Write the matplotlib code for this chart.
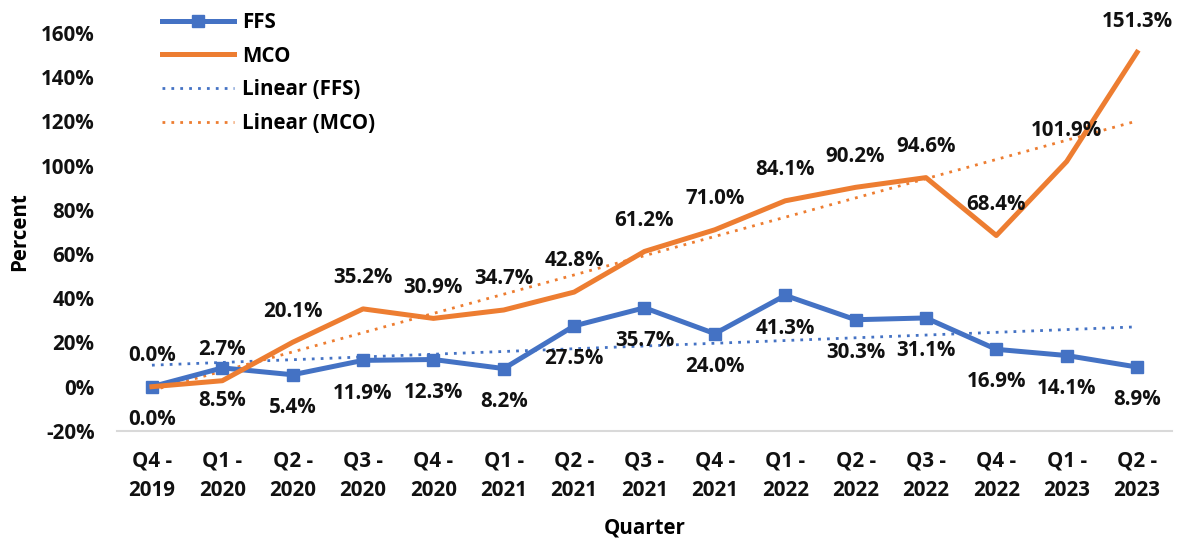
import numpy as np
import matplotlib.pyplot as plt

quarters = ["Q4 -\n2019", "Q1 -\n2020", "Q2 -\n2020", "Q3 -\n2020", "Q4 -\n2020",
            "Q1 -\n2021", "Q2 -\n2021", "Q3 -\n2021", "Q4 -\n2021", "Q1 -\n2022",
            "Q2 -\n2022", "Q3 -\n2022", "Q4 -\n2022", "Q1 -\n2023", "Q2 -\n2023"]
ffs = [0.0, 8.5, 5.4, 11.9, 12.3, 8.2, 27.5, 35.7, 24.0, 41.3, 30.3, 31.1, 16.9, 14.1, 8.9]
mco = [0.0, 2.7, 20.1, 35.2, 30.9, 34.7, 42.8, 61.2, 71.0, 84.1, 90.2, 94.6, 68.4, 101.9, 151.3]

blue = "#4472C4"
orange = "#ED7D31"
fs = 14.8

plt.rcParams['font.family'] = ['Open Sans', 'DejaVu Sans']
plt.rcParams['font.weight'] = 'bold'

fig = plt.figure(figsize=(11.83, 5.42), dpi=100)
ax = fig.add_axes([0.0987, 0.205, 0.8922, 0.734])

x = np.arange(len(quarters))

ax.plot(x, ffs, color=blue, lw=3.6, marker='s', ms=8, label='FFS', zorder=3)
ax.plot(x, mco, color=orange, lw=3.6, label='MCO', zorder=3)

# linear trendlines like Excel
for vals, c, name in [(ffs, blue, 'Linear (FFS)'), (mco, orange, 'Linear (MCO)')]:
    k, b = np.polyfit(x, vals, 1)
    ax.plot(x, k * x + b, color=c, lw=2, ls=(0, (1, 2.2)), label=name, zorder=2)

lab_kw = dict(ha='center', va='center', fontsize=fs, fontweight='bold', color='#111111',
              textcoords='offset points', zorder=4)
for i, v in enumerate(ffs):
    ax.annotate(f"{v:.1f}%", (i, v), xytext=(0, -23.5), **lab_kw)
for i, v in enumerate(mco):
    ax.annotate(f"{v:.1f}%", (i, v), xytext=(0, 22.5), **lab_kw)

ax.set_xlim(-0.5, len(quarters) - 0.5)
ax.set_ylim(-20, 160)
ax.set_yticks(np.arange(-20, 161, 20))
ax.set_yticklabels([f"{t}%" for t in range(-20, 161, 20)])
ax.set_xticks(x, labels=quarters)
ax.tick_params(axis='both', length=0, labelsize=fs, colors='#111111')
ax.tick_params(axis='x', pad=14)
ax.tick_params(axis='y', pad=16)
for t in ax.get_xticklabels():
    t.set_linespacing(1.55)

for s in ['top', 'right', 'left']:
    ax.spines[s].set_visible(False)
ax.spines['bottom'].set_color('#d9d9d9')
ax.spines['bottom'].set_linewidth(1.5)

ax.set_ylabel('Percent', fontsize=fs, fontweight='bold', labelpad=8)
ax.set_xlabel('Quarter', fontsize=fs, fontweight='bold', labelpad=12)

ax.legend(loc='upper left', bbox_to_anchor=(0.025, 1.1), frameon=False, fontsize=fs,
          handlelength=3.5, labelspacing=0.62, handletextpad=0.4)

fig.savefig("out.png", dpi=100)
